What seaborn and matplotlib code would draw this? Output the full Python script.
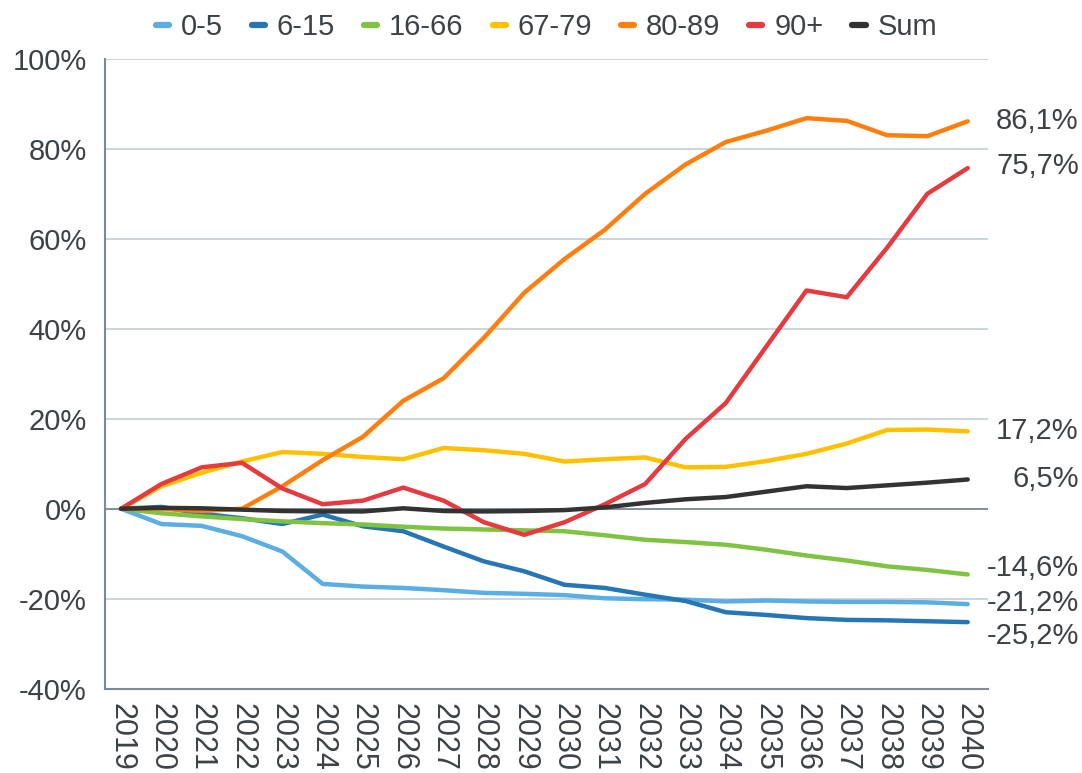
import pandas as pd
import matplotlib
matplotlib.use('Agg')
import matplotlib.pyplot as plt
import matplotlib.transforms as mtransforms
import seaborn as sns

# Data (percent change vs 2019)
years = list(range(2019, 2041))
g_0_5 = [0, -3.4, -3.8, -6.1, -9.5, -16.7, -17.3, -17.6, -18.1, -18.7, -18.9, -19.2,
         -19.9, -20.1, -20.2, -20.6, -20.4, -20.6, -20.7, -20.7, -20.8, -21.2]
g_6_15 = [0, 0.4, -1.1, -2.1, -3.4, -1.3, -3.9, -5.0, -8.4, -11.7, -13.9, -16.9,
          -17.6, -19.1, -20.5, -23.0, -23.6, -24.3, -24.7, -24.8, -25.0, -25.2]
g_16_66 = [0, -1.0, -1.7, -2.3, -2.8, -3.2, -3.5, -4.0, -4.4, -4.6, -4.8, -5.0,
           -5.9, -6.9, -7.4, -8.0, -9.1, -10.4, -11.5, -12.8, -13.6, -14.6]
g_67_79 = [0, 5.0, 8.0, 10.5, 12.6, 12.2, 11.5, 11.0, 13.5, 13.0, 12.2, 10.5,
           11.0, 11.4, 9.2, 9.3, 10.6, 12.2, 14.5, 17.5, 17.6, 17.2]
g_80_89 = [0, 0, -0.5, 0, 5.0, 10.8, 16.0, 24.0, 29.0, 38.0, 48.0, 55.5,
           62.0, 70.0, 76.5, 81.5, 84.0, 86.8, 86.2, 83.0, 82.8, 86.1]
g_90 = [0, 5.5, 9.2, 10.2, 4.5, 1.0, 1.8, 4.7, 1.8, -3.0, -5.8, -3.0,
        1.0, 5.5, 15.5, 23.5, 36.0, 48.5, 47.0, 58.0, 70.0, 75.7]
g_sum = [0, 0.2, 0.1, -0.2, -0.5, -0.6, -0.6, 0.1, -0.5, -0.6, -0.5, -0.3,
         0.3, 1.3, 2.1, 2.6, 3.8, 5.0, 4.6, 5.2, 5.8, 6.5]

groups = ['0-5', '6-15', '16-66', '67-79', '80-89', '90+', 'Sum']
colors = ['#5aaee3', '#2676b5', '#80c342', '#ffc000', '#ff7f0e', '#e53a3f', '#333333']
end_labels = ['-21,2%', '-25,2%', '-14,6%', '17,2%', '86,1%', '75,7%', '6,5%']
label_shift = [0.3, -3.0, 1.5, 0, 0, 0.4, 0]

df = pd.DataFrame({'year': years, '0-5': g_0_5, '6-15': g_6_15, '16-66': g_16_66,
                   '67-79': g_67_79, '80-89': g_80_89, '90+': g_90, 'Sum': g_sum})
long = df.melt(id_vars='year', var_name='group', value_name='value')
long['x'] = long['year'] - 2019

sns.set_style('white')
plt.rcParams['font.family'] = ['Liberation Sans', 'DejaVu Sans']
txt = '#3d4247'
fs = 21

fig = plt.figure(figsize=(10.82, 7.73), dpi=100)
ax = fig.add_axes([0.097, 0.109, 0.816, 0.815])

for yv in range(-20, 101, 20):
    ax.axhline(yv, color='#c5ced6', lw=1.2, zorder=0)
ax.axhline(0, color='#7d8a94', lw=1.3, zorder=0)

sns.lineplot(data=long, x='x', y='value', hue='group', hue_order=groups,
             palette=colors, linewidth=3.2, ax=ax, legend=True)

ax.set_xlim(-0.4, 21.5)
ax.set_ylim(-40, 100)
ax.set_yticks(range(-40, 101, 20))
ax.set_yticklabels([f'{v}%' for v in range(-40, 101, 20)], fontsize=fs, color=txt)
ax.set_xticks(range(len(years)))
ax.set_xticklabels([str(y) for y in years], rotation=270, fontsize=fs + 1, color=txt)
ax.tick_params(axis='x', length=0, pad=10)
ax.tick_params(axis='y', length=0, pad=13)
ax.set_xlabel('')
ax.set_ylabel('')
for s in ['top', 'right']:
    ax.spines[s].set_visible(False)
for s in ['left', 'bottom']:
    ax.spines[s].set_color('#7d8a94')
    ax.spines[s].set_linewidth(1.5)

trans = mtransforms.blended_transform_factory(fig.transFigure, ax.transData)
for g, lab, sh in zip(groups, end_labels, label_shift):
    ax.text(0.997, df[g].iloc[-1] + sh, lab, transform=trans, ha='right',
            va='center', fontsize=fs, color=txt)

handles, labels = ax.get_legend_handles_labels()
for h in handles:
    h.set_solid_capstyle('round')
    h.set_linewidth(4.5)
ax.legend(handles, labels, loc='center', bbox_to_anchor=(0.5, 1.05), ncol=7,
          frameon=False, fontsize=fs, handlelength=0.45, handletextpad=0.4,
          columnspacing=1.0, labelcolor=txt)

fig.savefig('out.png', dpi=100)
